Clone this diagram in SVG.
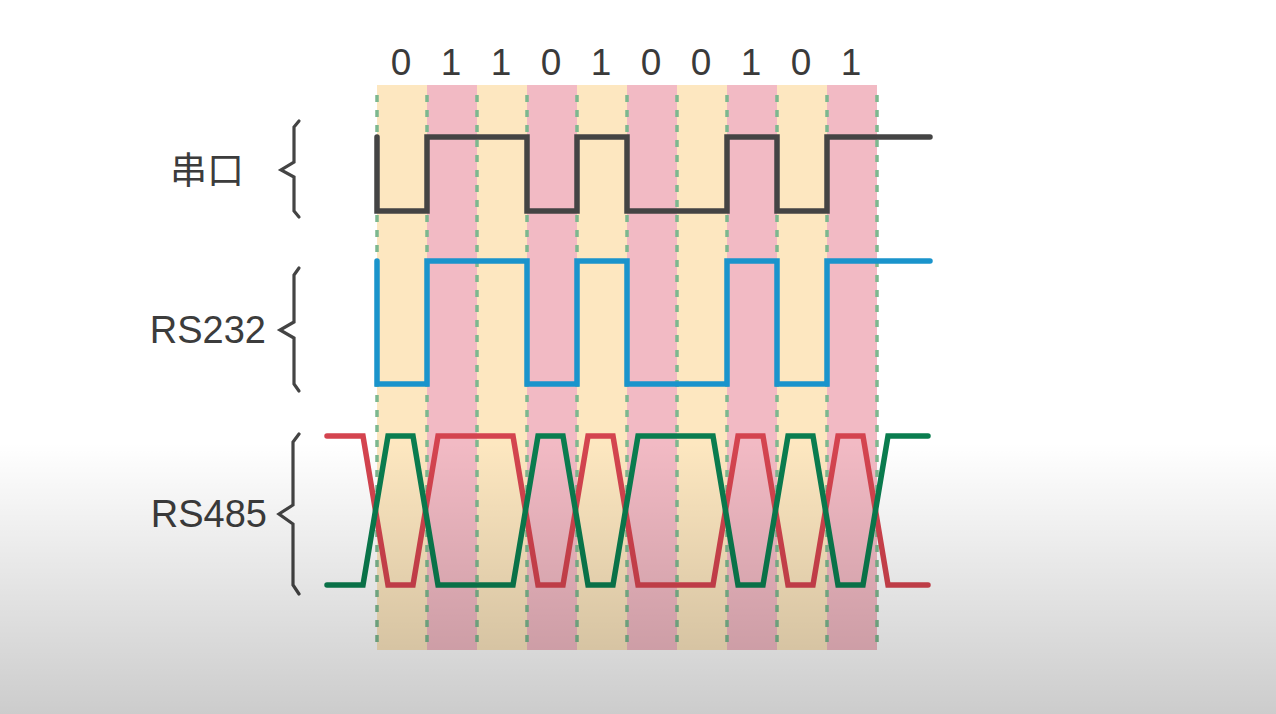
<svg xmlns="http://www.w3.org/2000/svg" width="1276" height="714" viewBox="0 0 1276 714">
  <defs>
    <linearGradient id="shade" x1="0" y1="0" x2="0" y2="714" gradientUnits="userSpaceOnUse">
      <stop offset="0" stop-color="#000" stop-opacity="0"/>
      <stop offset="0.62" stop-color="#000" stop-opacity="0"/>
      <stop offset="1" stop-color="#000" stop-opacity="0.2"/>
    </linearGradient>
    <style>
      .yel { fill: #fde7c0; }
      .pnk { fill: #f2bac4; }
      .grid { stroke: #7db88f; stroke-width: 3.5; stroke-dasharray: 7 8; fill: none; }
      .bit { font-family: "Liberation Sans", Arial, sans-serif; font-size: 37px; fill: #3a3a3a; text-anchor: middle; }
      .lbl { font-family: "Liberation Sans", "Noto Sans CJK SC", sans-serif; font-size: 38px; fill: #3c3c3c; text-anchor: end; }
      .brace { stroke: #444; stroke-width: 3.2; fill: none; stroke-linecap: round; stroke-linejoin: miter; }
      .wave { fill: none; stroke-width: 5.5; stroke-linecap: round; stroke-linejoin: miter; }
      .ser { stroke: #444444; }
      .r232 { stroke: #1a94cc; }
      .red { stroke: #d4444f; }
      .grn { stroke: #0a7d4f; }
    </style>
  </defs>
  <rect x="0" y="0" width="1276" height="714" fill="#ffffff"/>

  <g id="bands">
    <rect class="yel" x="377" y="85" width="50" height="565"/>
    <rect class="pnk" x="427" y="85" width="50" height="565"/>
    <rect class="yel" x="477" y="85" width="50" height="565"/>
    <rect class="pnk" x="527" y="85" width="50" height="565"/>
    <rect class="yel" x="577" y="85" width="50" height="565"/>
    <rect class="pnk" x="627" y="85" width="50" height="565"/>
    <rect class="yel" x="677" y="85" width="50" height="565"/>
    <rect class="pnk" x="727" y="85" width="50" height="565"/>
    <rect class="yel" x="777" y="85" width="50" height="565"/>
    <rect class="pnk" x="827" y="85" width="50" height="565"/>
  </g>

  <g id="gridlines">
    <path class="grid" d="M377,95V650 M427,95V650 M477,95V650 M527,95V650 M577,95V650 M627,95V650 M677,95V650 M727,95V650 M777,95V650 M827,95V650 M877,95V650"/>
  </g>

  <g id="bits">
    <text class="bit" x="401" y="75">0</text>
    <text class="bit" x="451" y="75">1</text>
    <text class="bit" x="501" y="75">1</text>
    <text class="bit" x="551" y="75">0</text>
    <text class="bit" x="601" y="75">1</text>
    <text class="bit" x="651" y="75">0</text>
    <text class="bit" x="701" y="75">0</text>
    <text class="bit" x="751" y="75">1</text>
    <text class="bit" x="801" y="75">0</text>
    <text class="bit" x="851" y="75">1</text>
  </g>

  <g id="serial">
    <text class="lbl" x="244" y="184" style="font-family:'Noto Sans CJK SC','Liberation Sans',sans-serif;font-size:37px">串口</text>
    <path class="brace" d="M299,121 L294,127 V162 L281,170 L294,177 V211 L299,217"/>
    <path class="wave ser" d="M377,137 V211 H427 V137 H527 V211 H577 V137 H627 V211 H727 V137 H777 V211 H827 V137 H930"/>
  </g>

  <g id="rs232">
    <text class="lbl" x="266" y="343">RS232</text>
    <path class="brace" d="M299,268 L294,275 V322 L280,330 L294,338 V384 L299,391"/>
    <path class="wave r232" d="M377,261 V384 H427 V261 H527 V384 H577 V261 H627 V384 H727 V261 H777 V384 H827 V261 H930"/>
  </g>

  <g id="rs485">
    <text class="lbl" x="267" y="527">RS485</text>
    <path class="brace" d="M299,434 L293,442 V505 L279,514 L293,524 V585 L299,594"/>
    <path class="wave red" d="M327,436 H363 L388,585 H413 L438,436 H513 L538,585 H563 L588,436 H613 L638,585 H713 L738,436 H763 L788,585 H813 L838,436 H863 L888,585 H928"/>
    <path class="wave grn" d="M327,585 H363 L388,436 H413 L438,585 H513 L538,436 H563 L588,585 H613 L638,436 H713 L738,585 H763 L788,436 H813 L838,585 H863 L888,436 H928"/>
  </g>

  <rect x="0" y="0" width="1276" height="714" fill="url(#shade)"/>
</svg>
